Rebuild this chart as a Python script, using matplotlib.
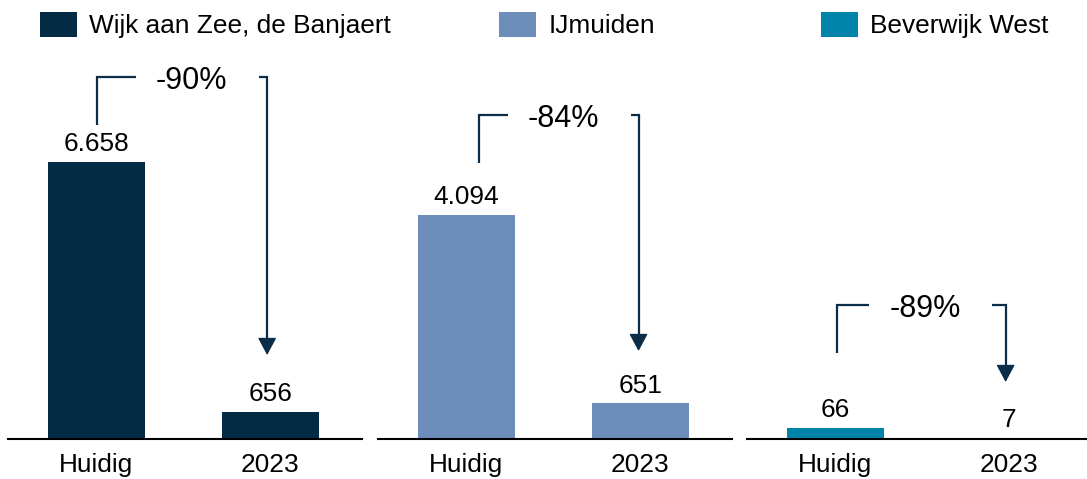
import matplotlib
matplotlib.use("Agg")
import matplotlib.pyplot as plt
from matplotlib.transforms import blended_transform_factory

plt.rcParams['font.family'] = ['Liberation Sans', 'DejaVu Sans']

# ---- data ----
regions = ["Wijk aan Zee, de Banjaert", "IJmuiden", "Beverwijk West"]
periods = ["Huidig", "2023"]
wijk_aan_zee = [6658, 656]
ijmuiden = [4094, 651]
beverwijk_west = [66, 7]
series = [wijk_aan_zee, ijmuiden, beverwijk_west]

# ---- style / layout ----
colors = ["#032B44", "#6D8DBA", "#0084A9"]
line_color = "#0B2D48"
W, H, DPI = 1087, 479, 100
FS = 18.9
PCT_FS = 22
ax_left_px = [8, 378, 747]
ax_w_px, ax_h_px, ax_bottom_px = 354, 379, 40
bar_top_px = [277, 224, 11]          # pixel height of tallest bar in each panel
legend_left_px = [40, 499, 821]
# bracket geometry per panel (x in bar units relative to bar index, y in px above baseline)
brackets = [
    dict(lx=0.003, le=0.23, tx=0.546, rs=0.937, rx=0.983, yb=314, yt=362, tip=84),
    dict(lx=0.072, le=0.239, tx=0.56, rs=0.945, rx=0.991, yb=276, yt=324, tip=88),
    dict(lx=0.009, le=0.193, tx=0.52, rs=0.90, rx=0.98, yb=86, yt=134, tip=57),
]

fig = plt.figure(figsize=(W / DPI, H / DPI), dpi=DPI)

def fmt(v):
    return f"{v:,}".replace(",", ".")

for p, (name, vals, col, b) in enumerate(zip(regions, series, colors, brackets)):
    ax = fig.add_axes([ax_left_px[p] / W, ax_bottom_px / H, ax_w_px / W, ax_h_px / H])
    x = list(range(len(periods)))
    bars = ax.bar(x, vals, width=0.557, color=col, edgecolor="none")
    ax.set_xlim(-0.506, 1.528)
    ax.set_ylim(0, max(vals) * ax_h_px / bar_top_px[p])
    for s in ["top", "left", "right"]:
        ax.spines[s].set_visible(False)
    ax.spines["bottom"].set_linewidth(1.5)
    ax.spines["bottom"].set_color("black")
    ax.set_yticks([])
    ax.set_xticks(x, periods)
    ax.tick_params(axis="x", length=0, pad=10, labelsize=FS)

    for xi, v in zip(x, vals):
        ax.annotate(fmt(v), (xi, v), xytext=(0, 4), textcoords="offset points",
                    ha="center", va="bottom", fontsize=FS, color="black")

    # bracket + arrow
    T = blended_transform_factory(ax.transData, ax.transAxes)
    fy = lambda px: px / ax_h_px
    kw = dict(transform=T, color=line_color, lw=1.6, solid_joinstyle="miter",
              solid_capstyle="butt", clip_on=False)
    ax.plot([b["lx"], b["lx"], b["le"]], [fy(b["yb"]), fy(b["yt"]), fy(b["yt"])], **kw)
    ax.plot([b["rs"], b["rx"], b["rx"]], [fy(b["yt"]), fy(b["yt"]), fy(b["tip"] + 10)], **kw)
    ax.annotate("", xy=(b["rx"], fy(b["tip"])), xytext=(b["rx"], fy(b["tip"] + 12)),
                xycoords=T, textcoords=T,
                arrowprops=dict(arrowstyle="-|>,head_length=10.8,head_width=5.8",
                                mutation_scale=1, lw=1.0, color=line_color,
                                shrinkA=0, shrinkB=0))
    pct = round((vals[1] / vals[0] - 1) * 100)
    ax.text(b["tx"], fy(b["yt"] - 12), f"{pct}%", transform=T, ha="center",
            va="baseline", fontsize=PCT_FS, color="black")

    ax.legend([bars[0]], [name], loc="center left",
              bbox_to_anchor=(legend_left_px[p] / W, (H - 25) / H),
              bbox_transform=fig.transFigure, frameon=False, fontsize=FS,
              handlelength=1.42, handleheight=1.08, handletextpad=0.46,
              borderpad=0, borderaxespad=0)

fig.savefig("out.png", dpi=DPI)
